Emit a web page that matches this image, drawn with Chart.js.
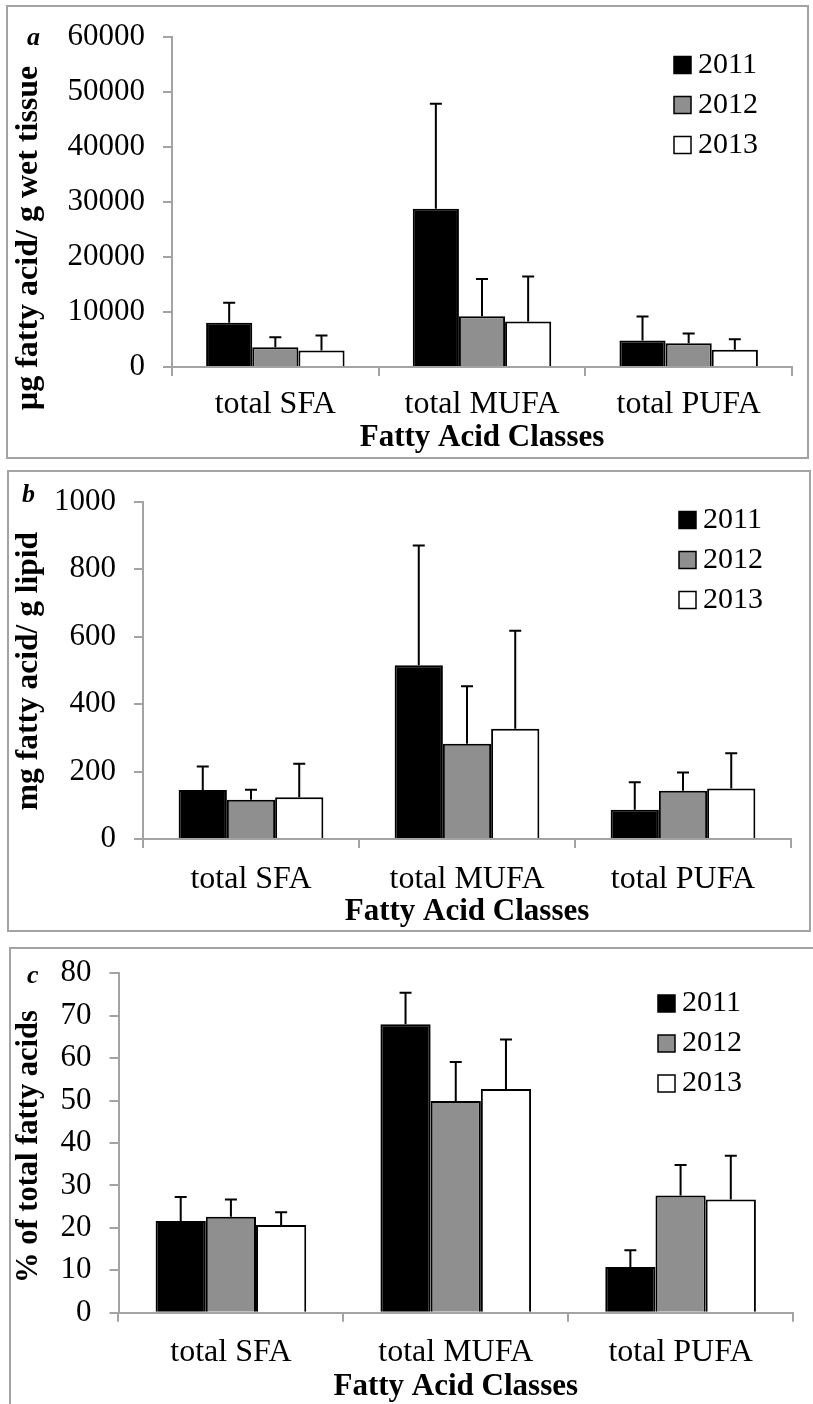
<!DOCTYPE html>
<html>
<head>
<meta charset="utf-8">
<script src="https://cdn.jsdelivr.net/npm/chart.js@4.4.1/dist/chart.umd.min.js"></script>
<style>
  html, body { margin: 0; padding: 0; background: #fff; }
  body { width: 813px; height: 1404px; position: relative; overflow: hidden; }
  .caixa { position: absolute; border: 2px solid #a3a3a3; box-sizing: border-box; }
  canvas { position: absolute; left: 0; }
</style>
</head>
<body>
<div class="caixa" style="left:6px;top:5px;width:803px;height:454px"></div>
<div class="caixa" style="left:7px;top:470px;width:804px;height:462px"></div>
<div class="caixa" style="left:9px;top:947px;width:820px;height:480px"></div>

<canvas id="graficoA" width="813" height="465" style="top:0px"></canvas>
<canvas id="graficoB" width="813" height="470" style="top:465px"></canvas>
<canvas id="graficoC" width="813" height="475" style="top:935px"></canvas>

<script>
const categorias = ['total SFA', 'total MUFA', 'total PUFA'];
const anos = ['2011', '2012', '2013'];

// a - µg fatty acid / g wet tissue (media e desvio)
const tecido2011 = [8050, 28750, 4800];
const tecido2012 = [3600, 9200, 4300];
const tecido2013 = [3000, 8250, 3150];
const tecidoSd2011 = [3600, 19050, 4350];
const tecidoSd2012 = [1800, 6800, 1800];
const tecidoSd2013 = [2700, 8200, 1900];
const ticksA = [0, 10000, 20000, 30000, 40000, 50000, 60000];

// b - mg fatty acid / g lipid
const lipidio2011 = [145, 515, 87];
const lipidio2012 = [116, 282, 143];
const lipidio2013 = [124, 327, 150];
const lipidioSd2011 = [70, 355, 81];
const lipidioSd2012 = [30, 171, 54];
const lipidioSd2013 = [99, 290, 104];
const ticksB = [0, 200, 400, 600, 800, 1000];

// c - % of total fatty acids
const pct2011 = [21.6, 68.0, 10.8];
const pct2012 = [22.6, 49.9, 27.6];
const pct2013 = [20.7, 52.7, 26.7];
const pctSd2011 = [5.7, 7.4, 3.9];
const pctSd2012 = [4.1, 9.2, 7.2];
const pctSd2013 = [3.0, 11.7, 10.3];
const ticksC = [0, 10, 20, 30, 40, 50, 60, 70, 80];

const coresAnos = ['#000000', '#8f8f8f', '#ffffff'];
const corEixo = '#a3a3a3';
const fonte = '"Liberation Serif", "Times New Roman", serif';
const LARGURA = 813;

const paineis = [
  {
    id: 'graficoA', letra: 'a', letraX: 27, letraY: 45,
    yTitulo: 'µg fatty acid/ g wet tissue', yTituloFonte: 32, yTituloY: 238,
    series: [tecido2011, tecido2012, tecido2013],
    sds: [tecidoSd2011, tecidoSd2012, tecidoSd2013],
    ticks: ticksA,
    area: { left: 172, right: 792, top: 31.5, bottom: 367 },
    xLabelPad: 9, xTituloPad: 8,
    legenda: { x: 674, y: 65 }
  },
  {
    id: 'graficoB', letra: 'b', letraX: 22, letraY: 37,
    yTitulo: 'mg fatty acid/ g lipid', yTituloFonte: 31.5, yTituloY: 206,
    series: [lipidio2011, lipidio2012, lipidio2013],
    sds: [lipidioSd2011, lipidioSd2012, lipidioSd2013],
    ticks: ticksB,
    area: { left: 143, right: 791, top: 31.7, bottom: 374 },
    xLabelPad: 12, xTituloPad: 4,
    legenda: { x: 679, y: 55 }
  },
  {
    id: 'graficoC', letra: 'c', letraX: 27, letraY: 48,
    yTitulo: '% of total fatty acids', yTituloFonte: 30.5, yTituloY: 211.5,
    series: [pct2011, pct2012, pct2013],
    sds: [pctSd2011, pctSd2012, pctSd2013],
    ticks: ticksC,
    area: { left: 118.5, right: 793, top: 38.3, bottom: 377.7 },
    xLabelPad: 12, xTituloPad: 4,
    legenda: { x: 658, y: 68.5 }
  }
];

// barras de erro só para cima (media + desvio)
function pluginBarrasErro(sds) {
  return {
    id: 'barrasErro',
    afterDatasetsDraw(chart) {
      const ctx = chart.ctx;
      const escalaY = chart.scales.y;
      ctx.save();
      ctx.strokeStyle = '#000';
      ctx.lineWidth = 2;
      chart.data.datasets.forEach((ds, i) => {
        chart.getDatasetMeta(i).data.forEach((barra, j) => {
          const topo = escalaY.getPixelForValue(ds.data[j] + sds[i][j]);
          ctx.beginPath();
          ctx.moveTo(barra.x, barra.y);
          ctx.lineTo(barra.x, topo);
          ctx.moveTo(barra.x - 6, topo);
          ctx.lineTo(barra.x + 6, topo);
          ctx.stroke();
        });
      });
      ctx.restore();
    }
  };
}

// legenda dentro da area do grafico, estilo Excel
function pluginLegenda(pos) {
  return {
    id: 'legendaExcel',
    afterDraw(chart) {
      const ctx = chart.ctx;
      ctx.save();
      ctx.font = `30px ${fonte}`;
      ctx.textBaseline = 'middle';
      chart.data.datasets.forEach((ds, i) => {
        const cy = pos.y + i * 40;
        ctx.fillStyle = ds.backgroundColor;
        ctx.fillRect(pos.x, cy - 8.5, 17, 17);
        ctx.strokeStyle = '#000';
        ctx.lineWidth = 1.5;
        ctx.strokeRect(pos.x, cy - 8.5, 17, 17);
        ctx.fillStyle = '#000';
        ctx.fillText(ds.label, pos.x + 24, cy);
      });
      ctx.restore();
    }
  };
}

// titulo do eixo y e letra do painel
function pluginTextos(p) {
  return {
    id: 'textosPainel',
    afterDraw(chart) {
      const ctx = chart.ctx;
      ctx.save();
      ctx.fillStyle = '#000';
      ctx.font = `bold italic 26px ${fonte}`;
      ctx.textBaseline = 'alphabetic';
      ctx.textAlign = 'left';
      ctx.fillText(p.letra, p.letraX, p.letraY);

      ctx.translate(29, p.yTituloY);
      ctx.rotate(-Math.PI / 2);
      ctx.font = `bold ${p.yTituloFonte}px ${fonte}`;
      ctx.textAlign = 'center';
      ctx.textBaseline = 'middle';
      ctx.fillText(p.yTitulo, 0, 0);
      ctx.restore();
    }
  };
}

function criarGrafico(p) {
  const canvas = document.getElementById(p.id);
  const altura = canvas.height;
  return new Chart(canvas.getContext('2d'), {
    type: 'bar',
    data: {
      labels: categorias,
      datasets: anos.map((ano, i) => ({
        label: ano,
        data: p.series[i],
        backgroundColor: coresAnos[i],
        borderColor: '#000',
        borderWidth: 2,
        categoryPercentage: 0.67,
        barPercentage: 1.0
      }))
    },
    options: {
      responsive: false,
      animation: false,
      devicePixelRatio: 1,
      layout: {
        padding: { left: 0, top: p.area.top, right: LARGURA - p.area.right, bottom: 0 }
      },
      plugins: {
        legend: { display: false },
        tooltip: { enabled: false }
      },
      scales: {
        x: {
          grid: { offset: true, drawOnChartArea: false, tickLength: 9, color: corEixo, lineWidth: 2 },
          border: { color: corEixo, width: 2 },
          ticks: { color: '#000', padding: p.xLabelPad, font: { family: fonte, size: 32 } },
          title: {
            display: true,
            text: 'Fatty Acid Classes',
            color: '#000',
            font: { family: fonte, size: 31, weight: 'bold' },
            padding: { top: 0, bottom: p.xTituloPad }
          },
          afterFit: s => { s.height = altura - p.area.bottom; }
        },
        y: {
          min: p.ticks[0],
          max: p.ticks[p.ticks.length - 1],
          ticks: {
            stepSize: p.ticks[1] - p.ticks[0],
            color: '#000',
            padding: 18,
            font: { family: fonte, size: 31 },
            callback: v => String(v)
          },
          grid: { drawOnChartArea: false, tickLength: 9, color: corEixo, lineWidth: 2 },
          border: { color: corEixo, width: 2 },
          afterFit: s => { s.width = p.area.left; }
        }
      }
    },
    plugins: [pluginBarrasErro(p.sds), pluginLegenda(p.legenda), pluginTextos(p)]
  });
}

paineis.forEach(criarGrafico);
</script>
</body>
</html>
